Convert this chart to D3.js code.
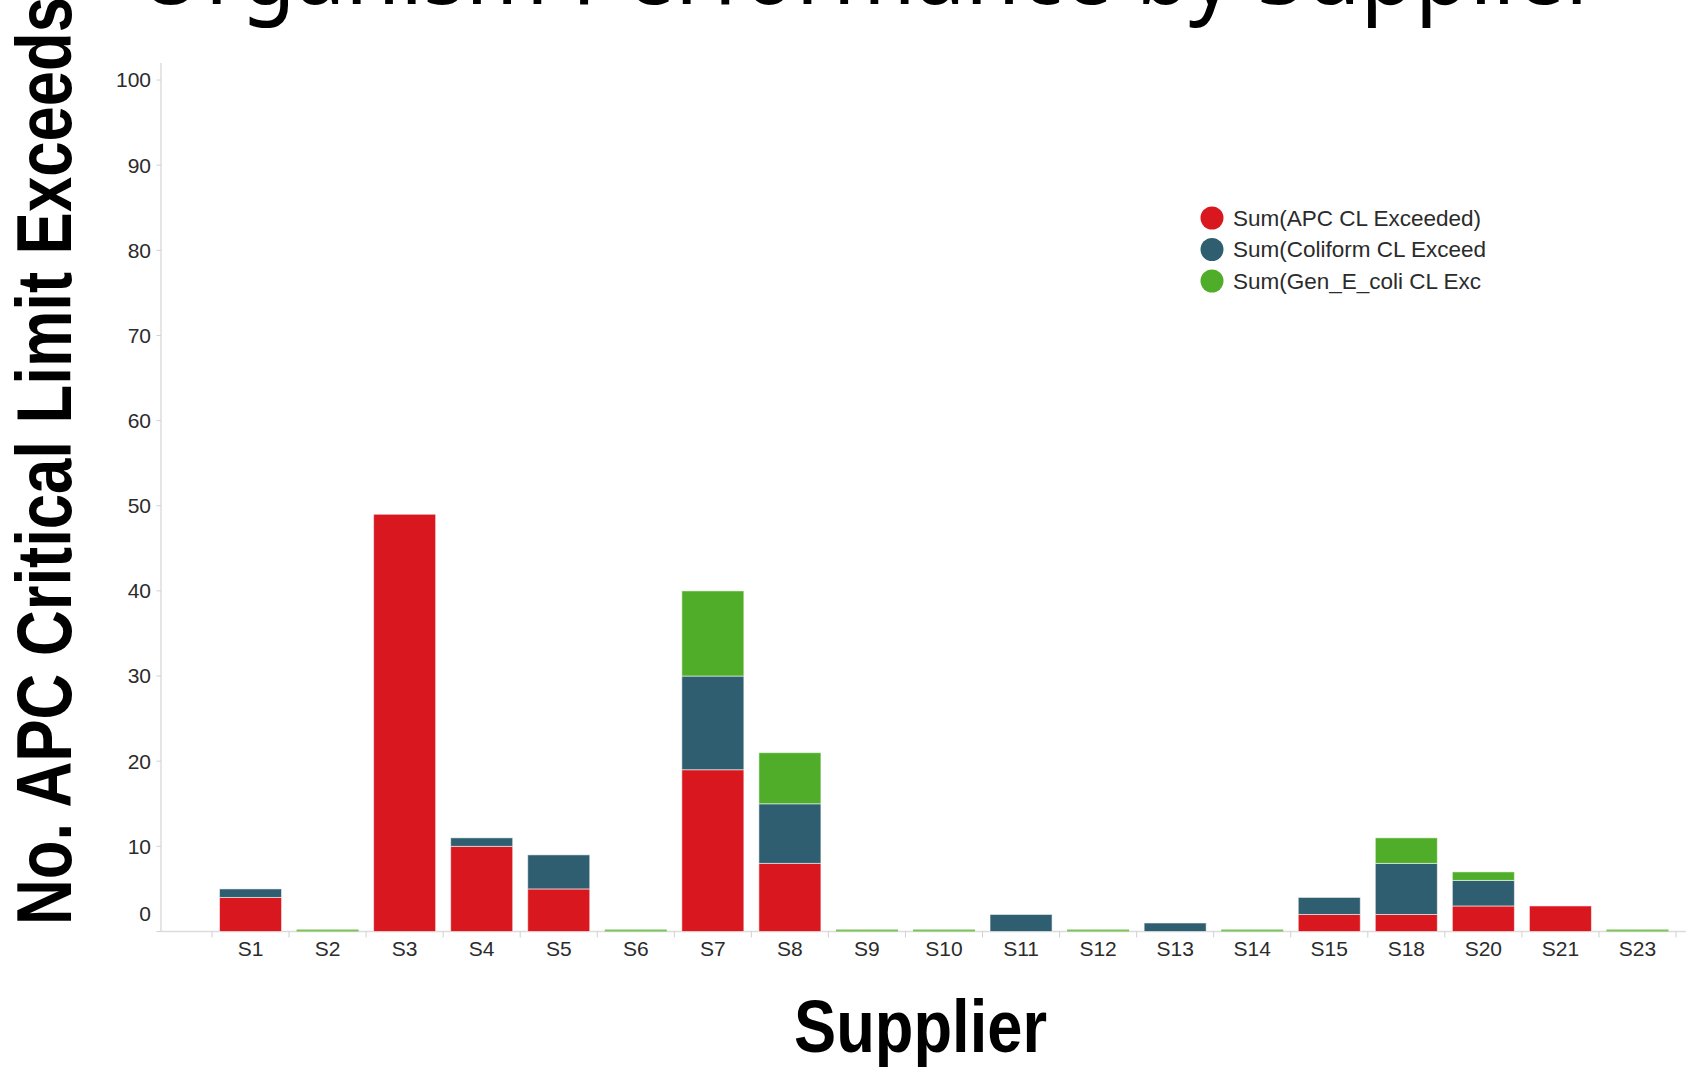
<!DOCTYPE html>
<html>
<head>
<meta charset="utf-8">
<script src="https://cdn.jsdelivr.net/npm/d3@7"></script>
<style>
  html, body { margin: 0; padding: 0; background: #fff; }
  svg { display: block; }
</style>
</head>
<body>
<svg id="chart" width="1692" height="1068"></svg>
<script>
// ---- Data ----
const suppliers = ["S1","S2","S3","S4","S5","S6","S7","S8","S9","S10","S11","S12","S13","S14","S15","S18","S20","S21","S23"];
const apcExceeded      = [4, 0, 49, 10, 5, 0, 19, 8, 0, 0, 0, 0, 0, 0, 2, 2, 3, 3, 0];
const coliformExceeded = [1, 0, 0, 1, 4, 0, 11, 7, 0, 0, 2, 0, 1, 0, 2, 6, 3, 0, 0];
const ecoliExceeded    = [0, 0, 0, 0, 0, 0, 10, 6, 0, 0, 0, 0, 0, 0, 0, 3, 1, 0, 0];
const seriesNames = ["Sum(APC CL Exceeded)", "Sum(Coliform CL Exceed", "Sum(Gen_E_coli CL Exc"];
const seriesColors = ["#d8181e", "#2e5e6f", "#4fad29"];
const yTicks = [0, 10, 20, 30, 40, 50, 60, 70, 80, 90, 100];
const titleText = "Organism Performance by Supplier";
const xTitle = "Supplier";
const yTitle = "No. APC Critical Limit Exceeds";

// ---- Build table ----
const keys = ["apc", "coliform", "ecoli"];
const rows = suppliers.map((s, i) => ({
  supplier: s, apc: apcExceeded[i], coliform: coliformExceeded[i], ecoli: ecoliExceeded[i]
}));
const stacked = d3.stack().keys(keys)(rows);

const svg = d3.select("#chart");
const font = "'Liberation Sans', Arial, sans-serif";

const x = d3.scaleBand().domain(suppliers).range([212, 1676]).paddingInner(0.195).paddingOuter(0.0975);
const y = d3.scaleLinear().domain([0, 100]).range([931.5, 80]);
const color = d3.scaleOrdinal().domain(keys).range(seriesColors);

// Title (cropped at the top, as in the reference)
svg.append("text")
  .attr("x", 136).attr("y", 4)
  .attr("textLength", 1466).attr("lengthAdjust", "spacingAndGlyphs")
  .style("font-family", "'Noto Sans', 'Open Sans', sans-serif")
  .style("font-size", "98px").style("fill", "#000")
  .text(titleText);

// Y axis line
svg.append("line")
  .attr("x1", 161).attr("x2", 161).attr("y1", 63).attr("y2", y(0))
  .attr("stroke", "#dcdcdc").attr("stroke-width", 1.5);

// Y ticks and labels
const yAxisG = svg.append("g");
yAxisG.selectAll("line.tick").data(yTicks).join("line")
  .attr("class", "tick")
  .attr("x1", 156.5).attr("x2", 161)
  .attr("y1", d => y(d)).attr("y2", d => y(d))
  .attr("stroke", "#d0d0d0").attr("stroke-width", 1);
yAxisG.selectAll("text").data(yTicks).join("text")
  .attr("x", 151)
  .attr("y", d => d === 0 ? y(d) - 18 : y(d))
  .attr("dy", "0.35em")
  .attr("text-anchor", "end")
  .style("font-family", font).style("font-size", "21px").style("fill", "#2b2b2b")
  .text(d => d);

// X baseline
svg.append("line")
  .attr("x1", 161).attr("x2", 1686).attr("y1", y(0)).attr("y2", y(0))
  .attr("stroke", "#dcdcdc").attr("stroke-width", 1.5);

// X ticks at band boundaries
const boundaries = suppliers.map(s => x(s) - x.step() * x.paddingInner() / 2);
boundaries.push(x(suppliers[suppliers.length - 1]) + x.bandwidth() + x.step() * x.paddingInner() / 2);
svg.append("g").selectAll("line").data(boundaries).join("line")
  .attr("x1", d => d).attr("x2", d => d)
  .attr("y1", y(0)).attr("y2", y(0) + 6)
  .attr("stroke", "#d0d0d0").attr("stroke-width", 1);

// X labels
svg.append("g").selectAll("text").data(suppliers).join("text")
  .attr("x", d => x(d) + x.bandwidth() / 2)
  .attr("y", 949).attr("dy", "0.35em")
  .attr("text-anchor", "middle")
  .style("font-family", font).style("font-size", "21px").style("fill", "#2b2b2b")
  .text(d => d);

// Bars
const barsG = svg.append("g");
stacked.forEach(layer => {
  barsG.append("g").selectAll("rect")
    .data(layer.filter(d => d[1] - d[0] > 0))
    .join("rect")
    .attr("x", d => x(d.data.supplier))
    .attr("width", x.bandwidth())
    .attr("y", d => y(d[1]))
    .attr("height", d => y(d[0]) - y(d[1]))
    .attr("fill", color(layer.key))
    .attr("stroke", "#ffffff").attr("stroke-opacity", 0.55).attr("stroke-width", 1);
});

// Zero-total markers (thin green line)
barsG.append("g").selectAll("rect")
  .data(rows.filter(r => r.apc + r.coliform + r.ecoli === 0))
  .join("rect")
  .attr("x", d => x(d.supplier))
  .attr("width", x.bandwidth())
  .attr("y", y(0) - 2)
  .attr("height", 2)
  .attr("fill", "#7cc35a");

// Legend
const legend = svg.append("g");
seriesNames.forEach((name, i) => {
  const cy = 218 + i * 31.5;
  legend.append("circle").attr("cx", 1212).attr("cy", cy).attr("r", 11.5).attr("fill", seriesColors[i]);
  legend.append("text").attr("x", 1233).attr("y", cy).attr("dy", "0.35em")
    .style("font-family", font).style("font-size", "22.5px").style("fill", "#2b2b2b")
    .text(name);
});

// Axis titles
svg.append("text")
  .attr("x", 794).attr("y", 1052)
  .attr("textLength", 253).attr("lengthAdjust", "spacingAndGlyphs")
  .style("font-family", font).style("font-size", "75px").style("font-weight", "bold").style("fill", "#000")
  .text(xTitle);

svg.append("text")
  .attr("transform", "translate(71,925) rotate(-90)")
  .attr("x", 0).attr("y", 0)
  .attr("textLength", 928).attr("lengthAdjust", "spacingAndGlyphs")
  .style("font-family", font).style("font-size", "78px").style("font-weight", "bold").style("fill", "#000")
  .text(yTitle);
</script>
</body>
</html>
